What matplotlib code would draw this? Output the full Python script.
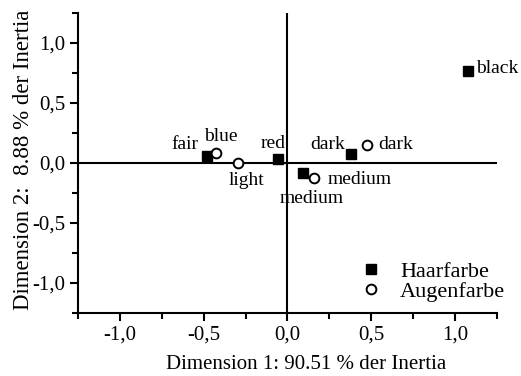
""" Correspondence analysis map: hair colour vs. eye colour """

import matplotlib
import matplotlib.pyplot as plt
from matplotlib.ticker import FuncFormatter, MultipleLocator

matplotlib.use('Agg')

plt.rcParams['font.family'] = ['Liberation Serif', 'DejaVu Serif']
plt.rcParams['font.size'] = 15

# Haarfarbe (hair colour) coordinates
hair_labels = ["fair", "red", "medium", "dark", "black"]
hair_x = [-0.478, -0.054, 0.090, 0.382, 1.075]
hair_y = [0.058, 0.033, -0.083, 0.075, 0.767]

# Augenfarbe (eye colour) coordinates
eye_labels = ["blue", "light", "medium", "dark"]
eye_x = [-0.424, -0.293, 0.161, 0.472]
eye_y = [0.083, 0.000, -0.125, 0.150]

# label placement (offset in pixels, horizontal alignment)
hair_offsets = [(-9, 11, "right"), (-5, 15, "center"), (9, -26, "center"),
                (-6, 9, "right"), (9, 2, "left")]
eye_offsets = [(4, 16, "center"), (8, -18, "center"), (13, -2, "left"), (12, 0, "left")]


def comma_format(val, _pos):
    """ Format tick values with a decimal comma """
    return f"{val:.1f}".replace(".", ",").replace("-0,0", "0,0")


fig = plt.figure(figsize=(5.21, 3.76), dpi=100)
ax = fig.add_axes([0.1497, 0.1676, 0.804, 0.798])

ax.set_xlim(-1.25, 1.25)
ax.set_ylim(-1.25, 1.25)

ax.axhline(0, color="black", linewidth=1.5, zorder=1)
ax.axvline(0, color="black", linewidth=1.5, zorder=1)

ax.plot(hair_x, hair_y, linestyle="none", marker="s", markersize=6.5,
        color="black", label="Haarfarbe", zorder=3)
ax.plot(eye_x, eye_y, linestyle="none", marker="o", markersize=7,
        markerfacecolor="white", markeredgecolor="black", markeredgewidth=1.4,
        label="Augenfarbe", zorder=3)

for lab, x, y, (dx, dy, ha) in zip(hair_labels, hair_x, hair_y, hair_offsets):
    ax.annotate(lab, (x, y), xytext=(dx, dy), textcoords="offset pixels",
                ha=ha, va="center", fontsize=14)
for lab, x, y, (dx, dy, ha) in zip(eye_labels, eye_x, eye_y, eye_offsets):
    ax.annotate(lab, (x, y), xytext=(dx, dy), textcoords="offset pixels",
                ha=ha, va="center", fontsize=14)

for side in ["top", "right"]:
    ax.spines[side].set_visible(False)
for side in ["left", "bottom"]:
    ax.spines[side].set_linewidth(1.5)

ax.xaxis.set_major_locator(MultipleLocator(0.5))
ax.xaxis.set_minor_locator(MultipleLocator(0.25))
ax.yaxis.set_major_locator(MultipleLocator(0.5))
ax.yaxis.set_minor_locator(MultipleLocator(0.25))
ax.xaxis.set_major_formatter(FuncFormatter(comma_format))
ax.yaxis.set_major_formatter(FuncFormatter(comma_format))
ax.tick_params(which="major", direction="out", length=6, width=1.5, pad=3)
ax.tick_params(which="minor", direction="out", length=4, width=1.5)

ax.set_xlabel("Dimension 1: 90.51 % der Inertia", labelpad=2)
ax.xaxis.set_label_coords(0.545, -0.14)
ax.set_ylabel("Dimension 2:  8.88 % der Inertia", labelpad=2, fontsize=16.5)
ax.yaxis.set_label_coords(-0.104, 0.51)

ax.legend(loc="upper left", bbox_to_anchor=(0.652, 0.203), frameon=False,
          handlelength=1.0, handletextpad=0.8, labelspacing=0.0,
          borderaxespad=0, numpoints=1, fontsize=16)

fig.savefig("out.png", dpi=100)
